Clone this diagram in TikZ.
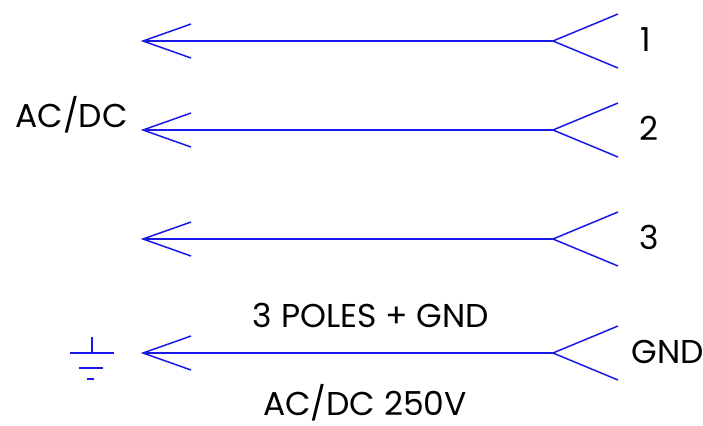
\documentclass[tikz,border=0pt]{standalone}
\usepackage{fontspec}
\setmainfont{Poppins}
\usetikzlibrary{calc, positioning}
\definecolor{wireblue}{RGB}{25,25,235}
\tikzset{
    wire/.style={draw=wireblue, line width=0.75pt},
    pinlabel/.style={font=\fontsize{16.5}{20}\selectfont, anchor=base west, inner sep=0pt},
    caption/.style={font=\fontsize{16.5}{20}\selectfont, anchor=base, inner sep=0pt}
}

\begin{document}
\begin{tikzpicture}[x=0.5pt, y=-0.5pt]
    \useasboundingbox (0,0) rectangle (703,425);

    % wires with arrow at the left and fork at the right
    \foreach \y/\name/\txt/\lx in {41/a/1/640, 130/b/2/639, 239/c/3/639, 353/g/GND/631} {
        \coordinate (tip\name) at (143,\y);
        \coordinate (end\name) at (553,\y);
        \draw[wire] (end\name) -- (tip\name);
        \draw[wire] ($(tip\name)+(48,-17)$) -- (tip\name) -- ($(tip\name)+(48,17)$);
        \draw[wire] ($(end\name)+(65,-27)$) -- (end\name) -- ($(end\name)+(65,27)$);
        \node[pinlabel] (pin\name) at (\lx,\y+10) {\txt};
    }

    % texts
    \node[pinlabel] (acdc) at (15,127) {AC/DC};
    \node[caption] (poles) at (371,327) {3 POLES + GND};
    \node[caption] (rating) at (365,415) {AC/DC 250V};

    % ground symbol
    \coordinate (gnd) at (92,353);
    \draw[wire] (gnd) -- ++(0,-16);
    \draw[wire] ($(gnd)+(-22,0)$) -- ($(gnd)+(22,0)$);
    \draw[wire] ($(gnd)+(-13,15)$) -- ($(gnd)+(11,15)$);
    \draw[wire] ($(gnd)+(-5,26)$) -- ($(gnd)+(2,26)$);
\end{tikzpicture}
\end{document}
